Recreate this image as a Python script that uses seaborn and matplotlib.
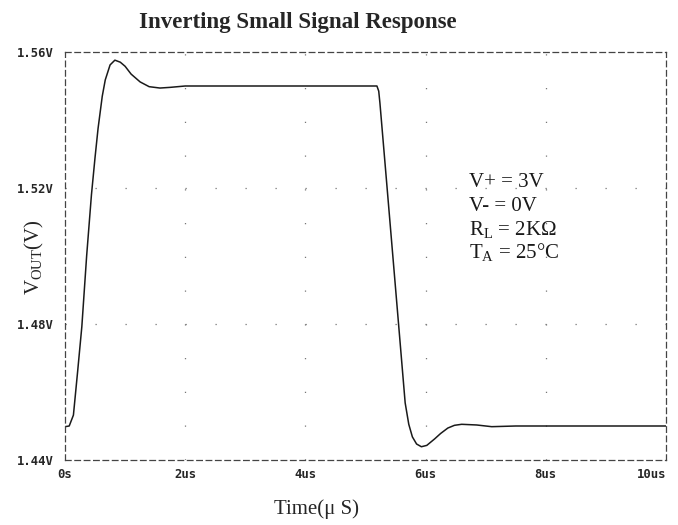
import numpy as np
import pandas as pd
import matplotlib
matplotlib.use("Agg")
import matplotlib.pyplot as plt
import seaborn as sns

# data (time in microseconds, output in volts)
time_us = [0.00, 0.07, 0.14, 0.21, 0.28, 0.36, 0.44, 0.50, 0.55, 0.62,
           0.67, 0.75, 0.83, 0.92, 1.00, 1.10, 1.25, 1.40, 1.58, 1.75,
           2.00, 3.00, 4.00, 5.00, 5.19, 5.22, 5.24, 5.35, 5.45, 5.55,
           5.66, 5.72, 5.78, 5.85, 5.93, 6.02, 6.15, 6.25, 6.37, 6.48,
           6.60, 6.85, 7.10, 7.50, 8.00, 9.00, 10.00]
vout = [1.4498, 1.4500, 1.4532, 1.4660, 1.4792, 1.5000, 1.5180, 1.5290, 1.5375, 1.5470,
        1.5518, 1.5562, 1.5576, 1.5570, 1.5558, 1.5535, 1.5512, 1.5498, 1.5494, 1.5496,
        1.5500, 1.5500, 1.5500, 1.5500, 1.5500, 1.5485, 1.5450, 1.5220, 1.5010, 1.4800,
        1.4568, 1.4505, 1.4468, 1.4447, 1.4439, 1.4443, 1.4462, 1.4478, 1.4494, 1.4502,
        1.4505, 1.4503, 1.4498, 1.4500, 1.4500, 1.4500, 1.4500]

x_ticks = [0, 2, 4, 6, 8, 10]
x_tick_labels = ["0s", "2us", "4us", "6us", "8us", "10us"]
y_ticks = [1.44, 1.48, 1.52, 1.56]
y_tick_labels = ["1.44V", "1.48V", "1.52V", "1.56V"]

conditions = ["V+ = 3V", "V- = 0V", r"R$_\mathregular{L}$ = 2K$\mathregular{\Omega}$",
              r"T$_\mathregular{A}$ = 25°C"]

df = pd.DataFrame({"t": time_us, "v": vout})

sns.set_style("white")
plt.rcParams["font.family"] = ["Liberation Serif", "DejaVu Serif"]
plt.rcParams["mathtext.fontset"] = "custom"
plt.rcParams["mathtext.rm"] = "Liberation Serif"
plt.rcParams["mathtext.it"] = "Liberation Serif"

fig = plt.figure(figsize=(6.78, 5.25), dpi=100)
ax = fig.add_axes([65 / 678, 1 - 460 / 525, (666 - 65) / 678, (460 - 52) / 525])

sns.lineplot(data=df, x="t", y="v", ax=ax, color="#1a1a1a", linewidth=1.1)

ax.set_xlim(0, 10)
ax.set_ylim(1.44, 1.56)
ax.set_xticks(x_ticks)
ax.set_xticklabels(x_tick_labels)
ax.set_yticks(y_ticks)
ax.set_yticklabels(y_tick_labels)
for lab in ax.get_xticklabels() + ax.get_yticklabels():
    lab.set_family("DejaVu Sans Mono")
    lab.set_fontweight("bold")
    lab.set_fontsize(8.8)
ax.get_xticklabels()[-1].set_horizontalalignment("right")
ax.tick_params(axis="y", direction="inout", length=6, width=0.8, color="#333333", pad=5)
ax.tick_params(axis="x", direction="inout", length=6, width=0.8, color="#333333", pad=3)

# dotted grid: dots along major lines at minor spacing
for xv in x_ticks[1:-1]:
    ax.axvline(xv, color="#777777", linewidth=0.9, linestyle=(0, (1, 26)), zorder=0)
for yv in y_ticks[1:-1]:
    ax.axhline(yv, color="#777777", linewidth=0.9, linestyle=(0, (1, 23)), zorder=0)

for sp in ax.spines.values():
    sp.set_linestyle((0, (4.5, 3)))
    sp.set_linewidth(0.9)
    sp.set_color("#444444")

ax.set_xlabel("Time(μ S)", fontsize=15)
ax.xaxis.set_label_coords((316 - 65) / 601, -(499 - 460) / 408)
ax.set_ylabel(r"V$_\mathregular{OUT}$(V)", fontsize=15)
ax.yaxis.set_label_coords((46 - 65) / 601, 0.5 - (257 - 256) / 408)

fig.text(298 / 678, 1 - 28 / 525, "Inverting Small Signal Response",
         ha="center", va="baseline", fontsize=16.5, fontweight="bold")

baselines = [187, 211, 235, 258]
for line, yb in zip(conditions, baselines):
    ax.text((469 - 65) / 601, (460 - yb) / 408, line, transform=ax.transAxes,
            fontsize=15, ha="left", va="baseline", color="#1a1a1a")

fig.savefig("out.png", dpi=100)
